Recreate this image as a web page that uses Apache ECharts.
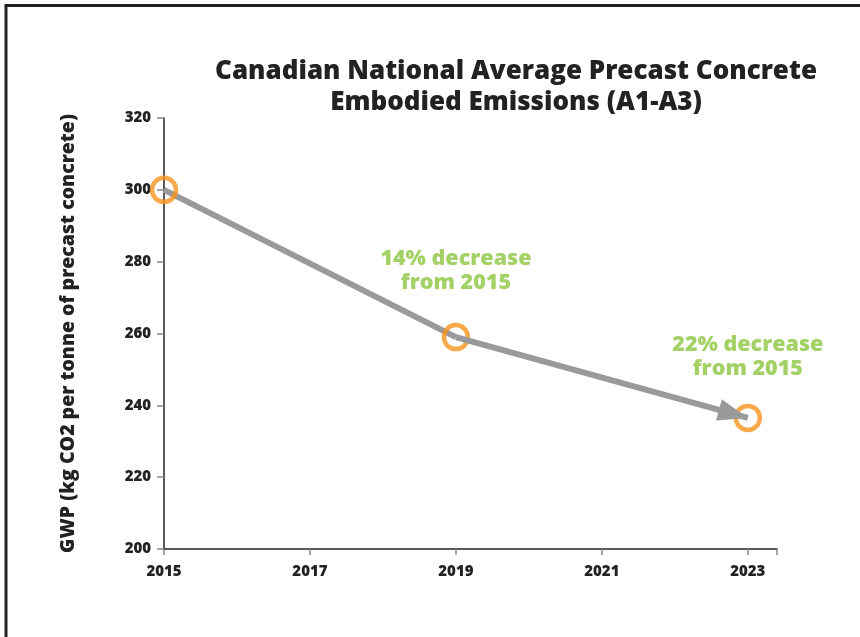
<!DOCTYPE html>
<html>
<head>
<meta charset="utf-8">
<script src="https://cdn.jsdelivr.net/npm/echarts@6/dist/echarts.min.js"></script>
<style>
    html, body { margin: 0; padding: 0; background: #fff; }
    #chart { width: 860px; height: 637px; }
</style>
</head>
<body>
<div id="chart"></div>
<script>
    // data
    var years = [2015, 2019, 2023];
    var gwp = [300, 259, 236.5];
    var yTicks = [200, 220, 240, 260, 280, 300, 320];
    var xTicks = [2015, 2017, 2019, 2021, 2023];

    var noteYears = [2019, 2023];
    var noteValues = [277.5, 253.5];
    var noteTexts = ['14% decrease\nfrom 2015', '22% decrease\nfrom 2015'];

    var lineData = years.map(function (y, i) { return [y, gwp[i]]; });
    var noteData = noteYears.map(function (y, i) {
        return { value: [y, noteValues[i]], label: { formatter: noteTexts[i] } };
    });

    var font = '"Open Sans", sans-serif';
    // arrow head with its tip at the centre of the symbol box
    var arrowHead = 'path://M0,-30L0.01,-30L0,-29.99Z M0,0L11,30L-11,30Z';

    var chart = echarts.init(document.getElementById('chart'));
    chart.setOption({
        animation: false,
        title: {
            text: 'Canadian National Average Precast Concrete\nEmbodied Emissions (A1-A3)',
            left: 511,
            top: 51,
            textAlign: 'center',
            textStyle: { fontFamily: font, fontWeight: 800, fontSize: 26, lineHeight: 31, color: '#222' }
        },
        graphic: [{
            type: 'rect',
            shape: { x: 6, y: 5.5, width: 1000, height: 1000 },
            style: { fill: 'none', stroke: '#222', lineWidth: 3 }
        }],
        grid: { left: 164, right: 83, top: 118, bottom: 88 },
        xAxis: {
            type: 'value',
            min: 2015,
            max: 2023.4,
            interval: 2,
            axisLine: { lineStyle: { color: '#222', width: 1.5 } },
            axisTick: { length: 6, lineStyle: { color: '#888', width: 1.5 } },
            splitLine: { show: false },
            axisLabel: {
                margin: 15,
                fontFamily: font, fontWeight: 800, fontSize: 15, color: '#222',
                customValues: xTicks,
                formatter: function (v) { return String(v); }
            }
        },
        yAxis: {
            type: 'value',
            min: yTicks[0],
            max: yTicks[yTicks.length - 1],
            interval: 20,
            name: 'GWP (kg CO2 per tonne of precast concrete)',
            nameLocation: 'middle',
            nameGap: 86,
            nameTextStyle: { fontFamily: font, fontWeight: 800, fontSize: 19.5, color: '#222' },
            axisLine: { show: true, lineStyle: { color: '#222', width: 1.5 } },
            axisTick: { show: true, length: 7, lineStyle: { color: '#888', width: 1.5 } },
            splitLine: { show: false },
            axisLabel: { margin: 13, fontFamily: font, fontWeight: 800, fontSize: 15, color: '#222' }
        },
        series: [
            {
                type: 'line',
                data: lineData.slice(0, 2),
                symbol: 'none',
                lineStyle: { color: '#999a9c', width: 6 },
                z: 2,
                markLine: {
                    silent: true,
                    symbol: ['none', arrowHead],
                    symbolSize: [22, 60],
                    label: { show: false },
                    lineStyle: { color: '#999a9c', width: 6, type: 'solid' },
                    data: [[{ coord: lineData[1] }, { coord: lineData[2] }]]
                }
            },
            {
                type: 'scatter',
                data: lineData,
                symbol: 'circle',
                symbolSize: 24,
                itemStyle: { color: 'rgba(255,255,255,0)', borderColor: '#f7941d', borderWidth: 4.5 },
                z: 3
            },
            {
                type: 'scatter',
                data: noteData,
                symbolSize: 0,
                label: {
                    show: true,
                    position: 'inside',
                    fontFamily: font, fontWeight: 800, fontSize: 21.5, lineHeight: 24,
                    color: '#8dc63f', align: 'center'
                },
                z: 4
            }
        ]
    });
</script>
</body>
</html>
